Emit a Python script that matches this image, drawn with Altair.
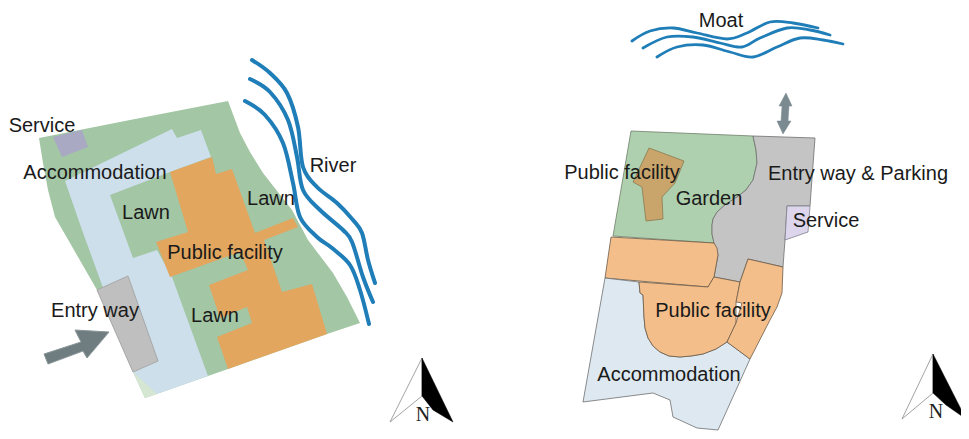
import altair as alt

# Regions: name, fill, stroke, stroke width, ring (reference image coordinates)
L_GREEN = [(39,138),(130,120),(228,101),(240,133),(250,152),(263,173),(292,210),(308,240),(333,273),(347,297),(360,323),(327,334),(228,369),(145,398),(133,372),(97,290),(70,243),(55,217),(48,190),(43,163)]
L_PALE = [(133,372),(148,367),(157,394),(145,398)]
L_BLUE = [(65,181),(172,129),(177,138),(201,130),(211,157),(170,172),(110,195),(133,258),(157,250),(172,277),(208,376),(157,394),(133,372),(102,285),(82,230)]
L_ORANGE = [(170,172),(212,157),(216,174),(232,169),(255,233),(293,218),(298,227),(264,240),(282,292),(312,284),(327,334),(228,369),(217,337),(252,323),(247,307),(220,318),(209,285),(248,270),(240,252),(170,277),(156,242),(188,232)]
L_SERVICE = [(53,137),(82,130),(88,147),(62,157)]
L_ENTRY = [(97,290),(128,276),(158,361),(133,372)]
L_ARROW = [(44,354),(81,342),(75,330),(109,332),(87,358),(83,351),(48,364)]

R_GREEN = [(631,131),(753,136),(756,150),(757,163),(753,180),(746,190),(737,197),(726,204),(717,212),(713,219),(712,225),(712,234),(714,243),(613,236)]
R_BROWN = [(649,148),(684,161),(675,183),(662,197),(663,219),(646,221),(642,187),(633,182)]
R_GREY = [(753,136),(815,138),(810,206),(787,206),(785,240),(783,267),(748,259),(740,282),(714,277),(718,255),(714,243),(712,234),(712,225),(713,219),(717,212),(726,204),(737,197),(746,190),(753,180),(757,163),(756,150)]
R_SERVICE = [(787,206),(810,206),(808,232),(785,240)]
R_ORANGE1 = [(611,237),(714,243),(717,248),(718,255),(714,277),(708,287),(605,278)]
R_ORANGE2 = [(639,282),(708,287),(714,277),(740,282),(736,303),(736,323),(727,342),(716,349),(703,354),(691,356),(680,357),(669,356),(660,352),(653,346),(648,338),(645,328),(644,317),(643,295),(640,293)]
R_ORANGE3 = [(748,259),(783,267),(782,293),(777,307),(770,320),(750,359),(727,342),(736,323),(742,303),(736,302),(740,282)]
R_BLUE = [(605,278),(639,282),(640,293),(643,295),(644,317),(645,328),(648,338),(653,346),(660,352),(669,356),(680,357),(691,356),(703,354),(716,349),(727,342),(750,359),(718,430),(697,428),(673,417),(670,400),(653,393),(583,402)]
R_ARROW = [(786,93),(792,106),(789,106),(788,121),(791,121),(783,134),(777,121),(781,121),(782,106),(779,106)]

C1_WHITE = [(422,358),(390,422),(422,396)]
C1_BLACK = [(422,358),(453,422),(433,410),(422,396)]
C2_WHITE = [(933,354),(902,419),(933,393)]
C2_BLACK = [(933,354),(966,419),(946,405),(933,393)]

REGIONS = [
    ("L_GREEN", L_GREEN, "#A3C6A5", "#A3C6A5", 0),
    ("L_PALE", L_PALE, "#D5E6D3", "#D5E6D3", 0),
    ("L_BLUE", L_BLUE, "#CCDFEA", "#CCDFEA", 0),
    ("L_ORANGE", L_ORANGE, "#E2A65F", "#E2A65F", 0),
    ("L_SERVICE", L_SERVICE, "#A9A9C4", "#A9A9C4", 0),
    ("L_ENTRY", L_ENTRY, "#BFBFBF", "#A8A8A8", 1),
    ("L_ARROW", L_ARROW, "#6F7D80", "#8A9698", 1),
    ("R_GREEN", R_GREEN, "#AFD0AE", "#6F7F6A", 0.8),
    ("R_BROWN", R_BROWN, "#C9A56C", "#8A7A50", 0.8),
    ("R_GREY", R_GREY, "#C4C4C4", "#6F6F6F", 0.8),
    ("R_SERVICE", R_SERVICE, "#DDD5EC", "#7F7F8F", 0.8),
    ("R_ORANGE1", R_ORANGE1, "#F4BE8A", "#6B5B48", 0.8),
    ("R_BLUE", R_BLUE, "#DDE8F0", "#6F6F6F", 0.8),
    ("R_ORANGE2", R_ORANGE2, "#F4BE8A", "#6B5B48", 0.8),
    ("R_ORANGE3", R_ORANGE3, "#F4BE8A", "#6B5B48", 0.8),
    ("R_ARROW", R_ARROW, "#7A8A90", "#7A8A90", 0.5),
    ("C1_WHITE", C1_WHITE, "#FFFFFF", "#8A8A8A", 0.8),
    ("C1_BLACK", C1_BLACK, "#000000", "#000000", 0.5),
    ("C2_WHITE", C2_WHITE, "#FFFFFF", "#8A8A8A", 0.8),
    ("C2_BLACK", C2_BLACK, "#000000", "#000000", 0.5),
]

RIVER_1 = [(252,60),(270,73),(287,93),(298,127),(303,167),(317,187),(337,203),(353,220),(362,233),(368,260),(375,283)]
RIVER_2 = [(250,79),(270,92),(288,120),(297,157),(303,190),(320,210),(343,230),(352,242),(363,277),(373,302)]
RIVER_3 = [(245,101),(265,115),(283,143),(293,183),(300,217),(317,237),(332,248),(350,265),(360,290),(369,324)]
MOAT_1 = [(632,41),(650,31),(673,28),(697,33),(727,39),(747,33),(770,22),(793,23),(818,28)]
MOAT_2 = [(643,48),(667,37),(693,37),(720,43),(742,47),(760,38),(787,28),(810,30),(830,35)]
MOAT_3 = [(657,57),(677,47),(703,45),(730,52),(753,57),(777,47),(800,38),(823,40),(843,44)]

LABELS = [
    ("Service", 42, 126), ("Accommodation", 95, 173), ("Lawn", 146, 213),
    ("River", 333, 166), ("Lawn", 271, 199), ("Public facility", 225, 253),
    ("Lawn", 215, 316), ("Entry way", 95, 311),
    ("Moat", 721, 21), ("Public facility", 622, 173), ("Garden", 709, 199),
    ("Entry way & Parking", 858, 174), ("Service", 826, 221),
    ("Public facility", 713, 311), ("Accommodation", 669, 375),
]
NORTH = [("N", 423, 415), ("N", 936, 412)]


def feature(name, ring, fill, stroke, sw):
    pts = [list(p) for p in ring]
    pts.append(pts[0])
    return {"type": "Feature", "geometry": {"type": "Polygon", "coordinates": [pts]},
            "properties": {"name": name, "fill": fill, "stroke": stroke, "sw": sw}}


shapes = alt.Chart(alt.Data(values=[feature(*r) for r in REGIONS])).mark_geoshape().encode(
    fill=alt.Fill("properties.fill:N", scale=None),
    stroke=alt.Stroke("properties.stroke:N", scale=None),
    strokeWidth=alt.StrokeWidth("properties.sw:Q", scale=None),
)


def waves(series, width):
    rows = [{"s": n, "i": i, "x": x, "y": y} for n, pts in series for i, (x, y) in enumerate(pts)]
    return alt.Chart(alt.Data(values=rows)).mark_line(
        color="#1F7DB8", strokeWidth=width, interpolate="cardinal", strokeCap="round"
    ).encode(longitude="x:Q", latitude="y:Q", detail="s:N", order="i:Q")


river = waves([("r1", RIVER_1), ("r2", RIVER_2), ("r3", RIVER_3)], 4)
moat = waves([("m1", MOAT_1), ("m2", MOAT_2), ("m3", MOAT_3)], 2.8)

labels = alt.Chart(alt.Data(values=[{"t": t, "x": x, "y": y} for t, x, y in LABELS])).mark_text(
    font="Liberation Sans", fontSize=20, color="#1a1a1a", align="center", baseline="middle"
).encode(longitude="x:Q", latitude="y:Q", text="t:N")

north = alt.Chart(alt.Data(values=[{"t": t, "x": x, "y": y} for t, x, y in NORTH])).mark_text(
    font="Liberation Serif", fontSize=20, color="#222222", align="center", baseline="middle"
).encode(longitude="x:Q", latitude="y:Q", text="t:N")

chart = alt.layer(shapes, river, moat, labels, north).project(
    type="identity", scale=1, translate=[-8, -8]
).properties(width=953, height=423, padding=0, background="white",
             autosize=alt.AutoSizeParams(type="none")).configure_view(stroke=None)

chart.save("out.html", embed_options={"renderer": "svg", "actions": False})
